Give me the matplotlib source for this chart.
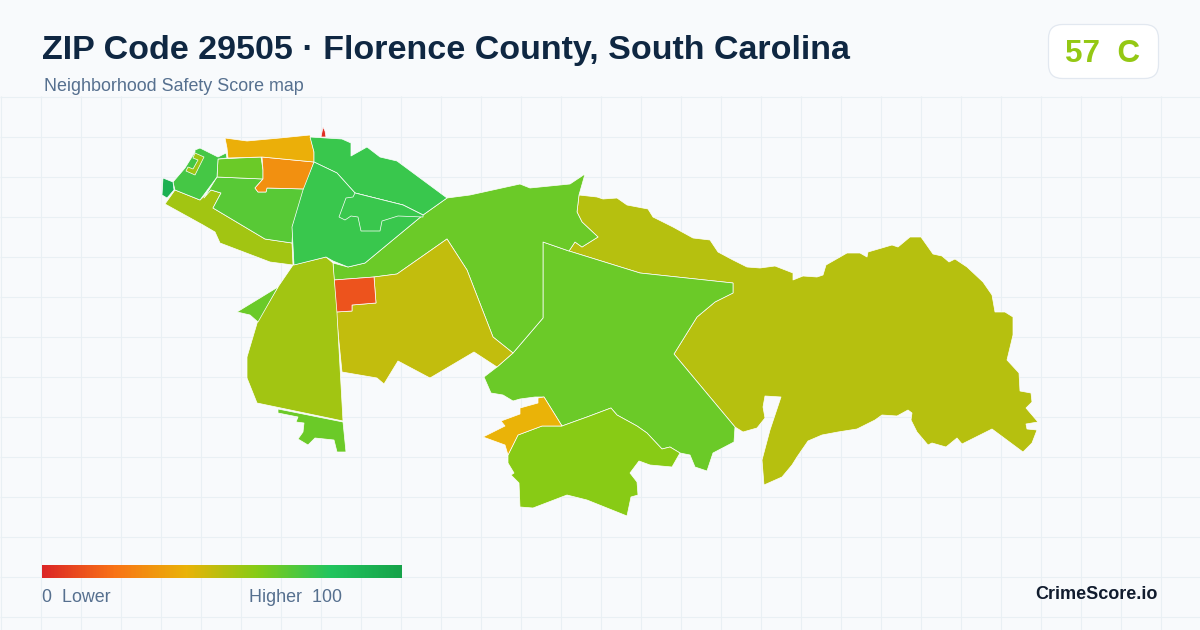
"""Neighborhood safety score map for ZIP code 29505."""

import matplotlib
matplotlib.use("Agg")
import matplotlib.pyplot as plt
import numpy as np
from matplotlib.collections import PolyCollection
from matplotlib.colors import LinearSegmentedColormap, Normalize
from matplotlib.patches import FancyBboxPatch

TITLE = "ZIP Code 29505 · Florence County, South Carolina"
SUBTITLE = "Neighborhood Safety Score map"
BRAND = "CrimeScore.io"
SCORE = 57
GRADE = "C"

RAMP_STOPS = [0.0, 0.2, 0.4, 0.6, 0.8, 1.0]
RAMP_COLORS = ["#dc2626", "#f97316", "#eab308", "#84cc16", "#22c55e", "#16a34a"]

EAST = [(579, 195), (597, 197), (603, 199), (617, 198), (627, 205), (648, 209), (653, 217), (673, 227),
        (693, 238), (710, 240), (718, 252), (733, 260), (747, 267), (760, 268), (775, 266), (793, 273),
        (793, 280), (803, 276), (817, 277), (823, 275), (826, 265), (847, 253), (860, 253), (867, 257),
        (868, 252), (892, 245), (898, 247), (910, 237), (921, 237), (933, 254), (942, 256), (949, 262),
        (955, 259), (967, 267), (983, 282), (992, 295), (995, 312), (1005, 312), (1013, 317), (1013, 335),
        (1007, 360), (1019, 373), (1020, 391), (1031, 393), (1032, 402), (1026, 408), (1038, 422), (1026, 424),
        (1027, 429), (1037, 430), (1032, 443), (1023, 452), (992, 429), (962, 444), (957, 438), (946, 447),
        (932, 443), (928, 445), (917, 432), (911, 420), (912, 413), (908, 410), (897, 416), (882, 415),
        (875, 420), (857, 429), (838, 432), (822, 435), (808, 441), (797, 457), (792, 465), (782, 477),
        (764, 485), (762, 460), (770, 430), (781, 397), (765, 396), (763, 407), (765, 418), (757, 428),
        (743, 432), (735, 427), (674, 354), (697, 317), (715, 302), (733, 293), (733, 283), (640, 273),
        (569, 251), (575, 242), (582, 247), (598, 237), (582, 222), (577, 212)]
CENTER = [(543, 242), (569, 251), (640, 273), (733, 283), (733, 293), (715, 302), (697, 317), (674, 354),
          (735, 427), (734, 442), (713, 453), (707, 471), (695, 467), (690, 455), (680, 453), (670, 447),
          (662, 449), (647, 433), (637, 426), (617, 415), (611, 408), (587, 417), (562, 426), (544, 397),
          (535, 397), (520, 399), (513, 401), (503, 395), (491, 393), (484, 377), (497, 367), (513, 353),
          (543, 318)]
NORTH_BAND = [(333, 263), (348, 267), (365, 263), (423, 215), (447, 198), (470, 195), (520, 184), (530, 188),
              (570, 184), (585, 174), (579, 195), (577, 212), (582, 222), (598, 237), (582, 247), (575, 242),
              (569, 251), (543, 242), (543, 318), (513, 353), (493, 337), (467, 270), (447, 239), (397, 274),
              (374, 277), (334, 280)]
OLIVE = [(336, 312), (352, 311), (352, 305), (376, 303), (374, 277), (397, 274), (447, 239), (467, 270),
         (493, 337), (513, 353), (497, 367), (474, 352), (430, 378), (398, 361), (384, 384), (377, 378),
         (342, 372)]
RED_ORANGE = [(334, 280), (374, 277), (376, 303), (352, 305), (352, 311), (336, 312)]
SOUTH_LIME = [(508, 455), (518, 435), (542, 426), (562, 426), (587, 417), (611, 408), (617, 415), (637, 426),
              (647, 433), (662, 449), (670, 447), (680, 453), (672, 467), (650, 465), (639, 461), (630, 473),
              (637, 482), (638, 495), (631, 497), (627, 516), (587, 500), (567, 495), (533, 508), (520, 507),
              (519, 483), (511, 475), (514, 473), (508, 463)]
SOUTH_AMBER = [(544, 397), (562, 426), (542, 426), (518, 435), (508, 455), (505, 445), (483, 437), (505, 426),
               (501, 421), (520, 414), (520, 408), (538, 403), (538, 398)]
WEST_BIG = [(293, 265), (326, 257), (333, 263), (337, 313), (343, 421), (257, 403), (247, 378), (247, 357),
            (258, 320), (278, 287)]
WEST_WEDGE = [(237, 312), (278, 287), (258, 322), (250, 315)]
WEST_FOOT = [(278, 409), (343, 422), (346, 452), (337, 452), (334, 440), (315, 438), (308, 445), (298, 439),
             (303, 432), (304, 423), (296, 422), (298, 417), (278, 413)]
NW_STRIP = [(165, 204), (175, 190), (200, 200), (211, 190), (221, 193), (213, 208), (265, 239), (292, 243),
            (293, 265), (270, 262), (220, 243), (215, 232), (203, 225)]
NW_MID = [(217, 177), (263, 179), (255, 188), (258, 192), (266, 192), (267, 188), (305, 189), (293, 225),
          (292, 243), (265, 239), (213, 208), (221, 193), (211, 190), (204, 198)]
NW_RECT = [(218, 159), (261, 157), (263, 170), (263, 179), (217, 177)]
NW_ORANGE = [(262, 157), (314, 162), (305, 189), (267, 188), (266, 192), (258, 192), (255, 188), (263, 179),
             (263, 170)]
NW_AMBER = [(225, 138), (247, 141), (280, 138), (310, 135), (314, 152), (314, 162), (262, 157), (228, 158),
            (227, 148)]
NW_CORNER = [(195, 150), (200, 148), (218, 157), (226, 153), (227, 158), (218, 159), (217, 177), (200, 200),
             (175, 190), (173, 182), (185, 168), (195, 152)]
NW_HOOK = [(195, 153), (204, 157), (195, 175), (186, 171), (188, 167), (193, 169), (198, 160), (193, 158)]
NW_TIP = [(163, 178), (173, 182), (174, 190), (167, 198), (162, 195)]
TOP_EAST = [(310, 137), (342, 139), (351, 143), (351, 156), (367, 147), (380, 157), (397, 161), (447, 198),
            (423, 215), (403, 205), (355, 193), (337, 173), (314, 162), (314, 152)]
TOP_SLIVER = [(323, 127), (321, 137), (326, 137), (325, 131)]
MIDDLE = [(314, 162), (337, 173), (355, 193), (403, 205), (423, 215), (365, 263), (348, 267), (333, 261),
          (326, 257), (294, 265), (292, 227), (303, 190)]
MIDDLE_INNER = [(355, 193), (353, 197), (346, 198), (339, 217), (345, 220), (351, 216), (358, 217), (361, 231),
                (380, 231), (382, 221), (398, 216), (423, 217), (423, 215), (403, 205)]

TRACTS = [EAST, CENTER, NORTH_BAND, OLIVE, RED_ORANGE, SOUTH_LIME, SOUTH_AMBER, WEST_BIG, WEST_WEDGE, WEST_FOOT,
          NW_STRIP, NW_MID, NW_RECT, NW_ORANGE, NW_AMBER, NW_CORNER, NW_HOOK, NW_TIP, TOP_EAST, TOP_SLIVER,
          MIDDLE, MIDDLE_INNER]
TRACT_SCORES = [50, 65, 65, 48, 12, 59, 40, 54, 65, 65,
                54, 69, 65, 29, 39, 73, 55, 92, 75, 2,
                75, 75]

GRID_X = [0.5, 40.5, 80.5, 120.5, 160.5, 200.5, 240.5, 280.5, 320.5, 360.5, 400.5, 440.5, 480.5, 520.5, 560.5,
          600.5, 640.5, 680.5, 720.5, 760.5, 800.5, 840.5, 880.5, 920.5, 960.5, 1000.5, 1040.5, 1080.5, 1120.5,
          1160.5]
GRID_Y = [96.5, 136.5, 176.5, 216.5, 256.5, 296.5, 336.5, 376.5, 416.5, 456.5, 496.5, 536.5, 576.5, 616.5]

BACKGROUND = "#f8fafc"
GRID = "#e9f0f4"
INK = "#0f2742"
SLATE = "#56708f"
SANS = ["Liberation Sans", "DejaVu Sans"]


def main():
    plt.rcParams["font.family"] = SANS
    fig = plt.figure(figsize=(12, 6.3), dpi=100, facecolor=BACKGROUND)
    ax = fig.add_axes([0, 0, 1, 1])
    ax.set_xlim(0, 1200)
    ax.set_ylim(630, 0)
    ax.axis("off")

    ax.vlines(GRID_X, 96, 630, color=GRID, linewidth=0.75, zorder=1)
    ax.hlines(GRID_Y, 0, 1200, color=GRID, linewidth=0.75, zorder=1)

    ramp = LinearSegmentedColormap.from_list("safety", list(zip(RAMP_STOPS, RAMP_COLORS)))
    norm = Normalize(0, 100)
    tracts = PolyCollection(TRACTS, array=np.array(TRACT_SCORES, dtype=float), cmap=ramp, norm=norm,
                            edgecolors="white", linewidths=0.5, zorder=2)
    ax.add_collection(tracts)

    ax.text(42, 59.5, TITLE, fontsize=24.5, fontweight="bold", color=INK, va="baseline", zorder=4)
    ax.text(44, 91, SUBTITLE, fontsize=12.9, color=SLATE, va="baseline", zorder=4)

    badge = FancyBboxPatch((1048.5, 24.5), 110, 54, boxstyle="round,pad=0,rounding_size=14",
                           facecolor="white", edgecolor="#e2e8f0", linewidth=0.9, zorder=3)
    ax.add_patch(badge)
    ax.text(1103, 62, f"{SCORE}  {GRADE}", fontsize=22.6, fontweight="bold", color=ramp(norm(SCORE)),
            ha="center", va="baseline", zorder=4)

    bar = np.linspace(0, 100, 360).reshape(1, -1)
    ax.imshow(bar, cmap=ramp, norm=norm, extent=(42, 402, 578, 565), aspect="auto", zorder=3)
    ax.set_xlim(0, 1200)
    ax.set_ylim(630, 0)

    ax.text(42, 602, "0  Lower", fontsize=12.9, color=SLATE, va="baseline", zorder=4)
    ax.text(249, 602, "Higher  100", fontsize=12.9, color=SLATE, va="baseline", zorder=4)
    ax.text(1158, 599, BRAND, fontsize=13, fontweight="bold", color="#111c2e", ha="right", va="baseline", zorder=4)

    fig.savefig("out.png", dpi=100, facecolor=BACKGROUND)
    plt.close(fig)


if __name__ == "__main__":
    main()
